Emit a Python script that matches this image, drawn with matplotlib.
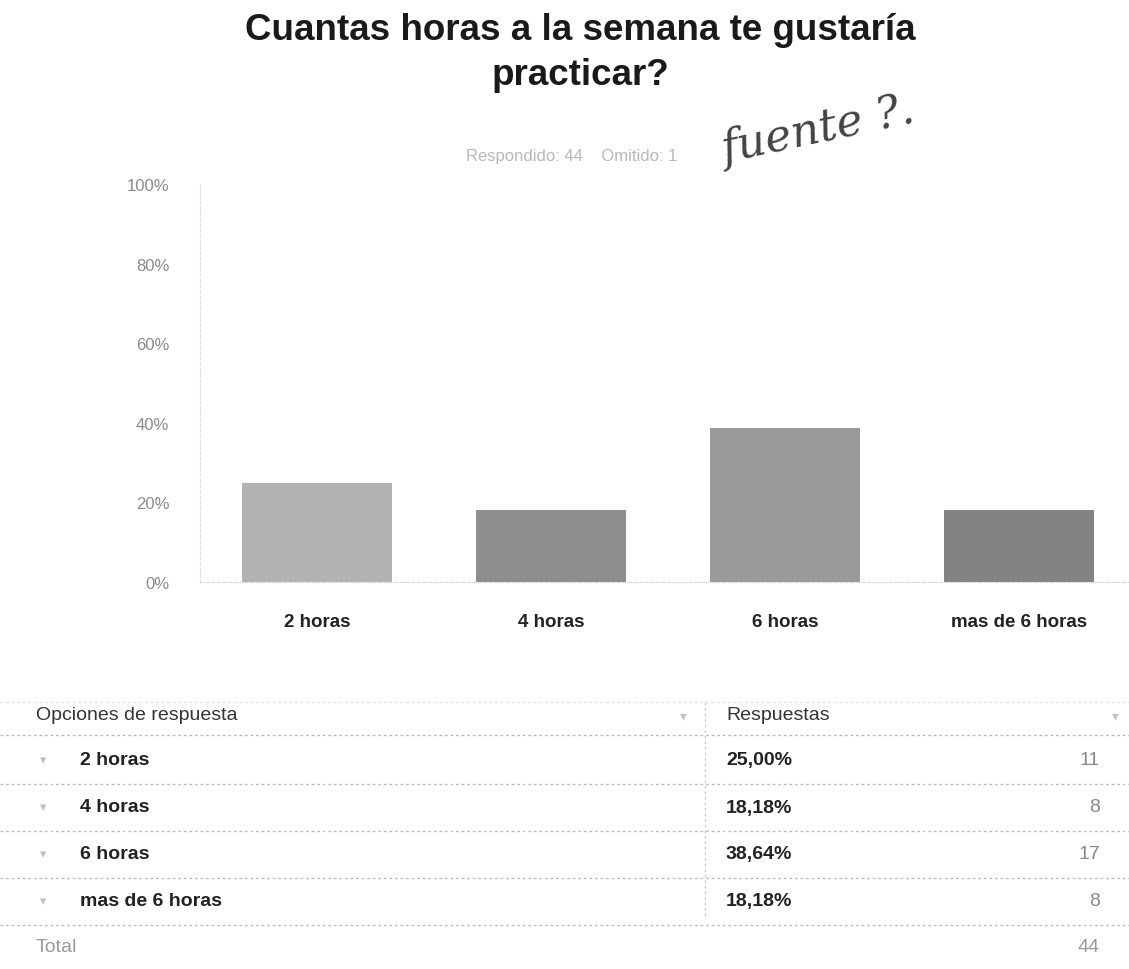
import numpy as np
import matplotlib
matplotlib.use('Agg')
import matplotlib.pyplot as plt
from matplotlib.lines import Line2D

# Data
categorias = ['2 horas', '4 horas', '6 horas', 'mas de 6 horas']
porcentajes = [25.00, 18.18, 38.64, 18.18]
respuestas = [11, 8, 17, 8]
respondido = 44
omitido = 1
total = 44
yticks = [0, 20, 40, 60, 80, 100]

bar_colors = ['#b2b2b2', '#8e8e8e', '#9a9a9a', '#838383']

W, H = 1129, 970
fig = plt.figure(figsize=(W / 100, H / 100), dpi=100)
fig.patch.set_facecolor('white')

def fx(px):
    return px / W

def fy(py):
    return 1 - py / H

# Title and subtitle
fig.text(fx(580), fy(31), 'Cuantas horas a la semana te gustaría', ha='center', va='center',
         fontsize=26.5, fontweight='bold', color='#1a1a1a', family='Liberation Sans')
fig.text(fx(580), fy(76), 'practicar?', ha='center', va='center',
         fontsize=26.5, fontweight='bold', color='#1a1a1a', family='Liberation Sans')
fig.text(fx(572), fy(156), 'Respondido: %d    Omitido: %d' % (respondido, omitido),
         ha='center', va='center', fontsize=12, color='#b8b8b8', family='Liberation Sans')

# Handwritten note
fig.text(fx(818), fy(130), 'fuente ?.', ha='center', va='center', fontsize=32,
         style='italic', color='#222222', family='DejaVu Serif', rotation=12, alpha=0.85)

# Bar chart
ax = fig.add_axes([fx(200), fy(583), fx(1129 - 200), (583 - 185) / H])
x = np.arange(len(categorias))
ax.bar(x, porcentajes, width=0.64, color=bar_colors, edgecolor='none')
ax.set_xlim(-0.5, 3.47)
ax.set_ylim(0, 100)
ax.set_yticks(yticks)
ax.set_yticklabels(['%d%%' % v for v in yticks], color='#8a8a8a', fontsize=12,
                   family='Liberation Sans')
ax.set_xticks(x)
ax.set_xticklabels(categorias, fontsize=13.5, fontweight='bold', color='#222222',
                   family='Liberation Sans')
ax.tick_params(axis='both', length=0)
ax.tick_params(axis='y', pad=22)
ax.tick_params(axis='x', pad=22)
for s in ['top', 'right']:
    ax.spines[s].set_visible(False)
ax.spines['left'].set_color('#e0e0e0')
ax.spines['left'].set_linestyle((0, (3, 2)))
ax.spines['bottom'].set_color('#d8d8d8')
ax.spines['bottom'].set_linestyle((0, (3, 2)))

# Table below
def hline(py, color='#c8c8c8', ls=(0, (2, 2)), lw=1.0):
    fig.add_artist(Line2D([0, 1], [fy(py), fy(py)], color=color, lw=lw, ls=ls))

def txt(px, py, s, **kw):
    kw.setdefault('family', 'Liberation Sans')
    fig.text(fx(px), fy(py), s, va='center', **kw)

hline(703, color='#e2e2e2')
hline(736, color='#bbbbbb')
fig.add_artist(Line2D([fx(705), fx(705)], [fy(703), fy(920)], color='#cccccc', lw=1,
                      ls=(0, (2, 2))))
txt(36, 716, 'Opciones de respuesta', fontsize=14, color='#333333')
txt(726, 716, 'Respuestas', fontsize=14, color='#333333')
txt(680, 716, '▾', fontsize=10, color='#c4c4c4', family='DejaVu Sans')
txt(1112, 716, '▾', fontsize=10, color='#c4c4c4', family='DejaVu Sans')

row_y = [761, 808, 855, 902]
for i, cat in enumerate(categorias):
    yy = row_y[i]
    txt(40, yy, '▾', fontsize=9, color='#c0c0c0', family='DejaVu Sans')
    txt(80, yy, cat, fontsize=14, fontweight='bold', color='#222222')
    txt(726, yy, ('%.2f%%' % porcentajes[i]).replace('.', ','), fontsize=14,
        fontweight='bold', color='#222222')
    txt(1100, yy, str(respuestas[i]), fontsize=14, color='#888888', ha='right')
    hline(yy + 24, color='#bdbdbd')

txt(36, 948, 'Total', fontsize=14, color='#999999')
txt(1100, 948, str(total), fontsize=14, color='#999999', ha='right')

fig.savefig('out.png', dpi=100, facecolor='white')
